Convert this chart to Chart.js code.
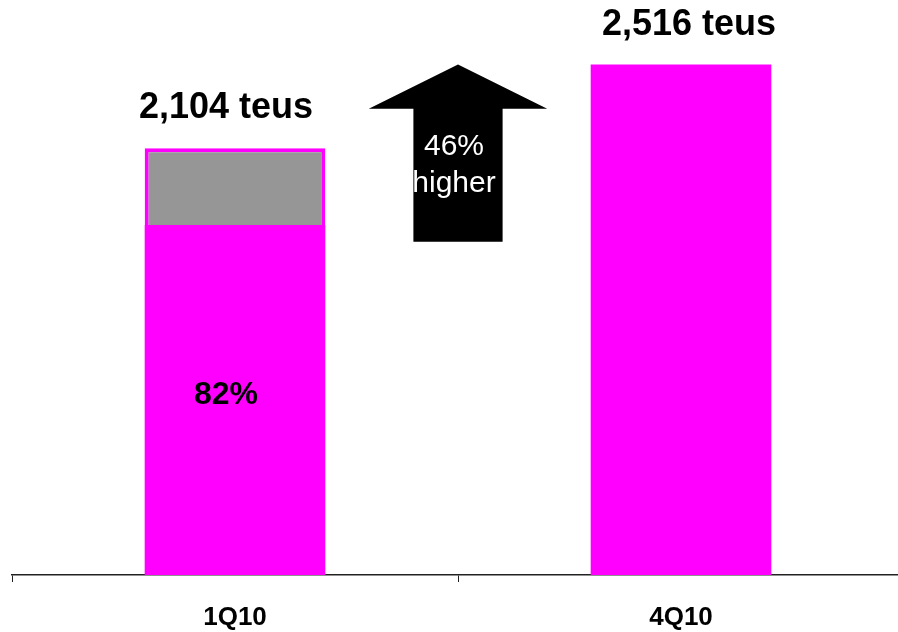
<!DOCTYPE html>
<html>
<head>
<meta charset="utf-8">
<script src="https://cdn.jsdelivr.net/npm/chart.js@4"></script>
<style>
  html, body { margin: 0; padding: 0; background: #fff; overflow: hidden; }
  #wrap { width: 910px; height: 632px; }
</style>
</head>
<body>
<div id="wrap"><canvas id="c"></canvas></div>
<script>
// quarters and volumes (teus)
const quarters = ["1Q10", "4Q10"];
const utilised = [1725, 2516];      // magenta part
const unused = [379, 0];            // grey part on top
const totalLabels = ["2,104 teus", "2,516 teus"];
const shareLabels = ["82%", ""];
// arrow between bars: shaft bottom, head base, tip (in teus)
const arrowLevels = [1643, 2299, 2516];
const arrowText = ["46%", "higher"];

const MAGENTA = "#ff00ff";
const GREY = "#969696";
const FONT = "'Liberation Sans', Arial, sans-serif";

const labelsPlugin = {
  id: "labels",
  afterDatasetsDraw(chart) {
    const ctx = chart.ctx;
    const base = chart.getDatasetMeta(0).data;
    const top = chart.getDatasetMeta(1).data;
    const shift = [-9, 8];
    ctx.save();
    ctx.textAlign = "center";
    ctx.textBaseline = "middle";
    ctx.fillStyle = "#000";
    quarters.forEach((q, i) => {
      const topY = Math.min(base[i].y, top[i].y);
      ctx.font = "bold 36px " + FONT;
      ctx.fillText(totalLabels[i], base[i].x + shift[i], topY - 40);
      if (shareLabels[i]) {
        ctx.font = "bold 32px " + FONT;
        ctx.fillText(shareLabels[i], base[i].x - 9, (base[i].y + base[i].base) / 2 - 5);
      }
    });

    // up arrow
    const xs = chart.scales.x, ys = chart.scales.y;
    const cx = xs.getPixelForValue(0.5);
    const step = xs.getPixelForValue(1) - xs.getPixelForValue(0);
    const headW = step * 0.2, shaftW = step * 0.1;
    const yBot = ys.getPixelForValue(arrowLevels[0]);
    const yHead = ys.getPixelForValue(arrowLevels[1]);
    const yTip = ys.getPixelForValue(arrowLevels[2]);
    ctx.beginPath();
    ctx.moveTo(cx - shaftW, yBot);
    ctx.lineTo(cx - shaftW, yHead);
    ctx.lineTo(cx - headW, yHead);
    ctx.lineTo(cx, yTip);
    ctx.lineTo(cx + headW, yHead);
    ctx.lineTo(cx + shaftW, yHead);
    ctx.lineTo(cx + shaftW, yBot);
    ctx.closePath();
    ctx.fillStyle = "#000";
    ctx.fill();
    ctx.fillStyle = "#fff";
    ctx.font = "30px " + FONT;
    ctx.fillText(arrowText[0], cx - 4, yHead + 38);
    ctx.fillText(arrowText[1], cx - 4, yHead + 75);
    ctx.restore();
  }
};

new Chart(document.getElementById("c"), {
  type: "bar",
  data: {
    labels: quarters,
    datasets: [{
      data: utilised,
      backgroundColor: MAGENTA,
      borderWidth: 0,
      categoryPercentage: 1,
      barPercentage: 0.405
    }, {
      data: unused,
      backgroundColor: GREY,
      borderColor: MAGENTA,
      borderWidth: {top: 4, left: 4, right: 4, bottom: 0},
      borderSkipped: false,
      categoryPercentage: 1,
      barPercentage: 0.405
    }]
  },
  options: {
    responsive: true,
    maintainAspectRatio: false,
    animation: false,
    layout: {padding: {left: 12, right: 6, top: 7, bottom: 0}},
    plugins: {legend: {display: false}, tooltip: {enabled: false}},
    scales: {
      x: {
        stacked: true,
        afterFit(scale) { scale.height = 57; },
        grid: {drawOnChartArea: false, drawTicks: true, tickLength: 7, color: "#222", offset: true},
        border: {display: true, color: "#222", width: 1.5},
        ticks: {
          color: "#000",
          padding: 20,
          font: {family: FONT, size: 26, weight: "bold"}
        }
      },
      y: {
        stacked: true,
        display: false,
        min: 0,
        max: 2800
      }
    }
  },
  plugins: [labelsPlugin]
});
</script>
</body>
</html>
